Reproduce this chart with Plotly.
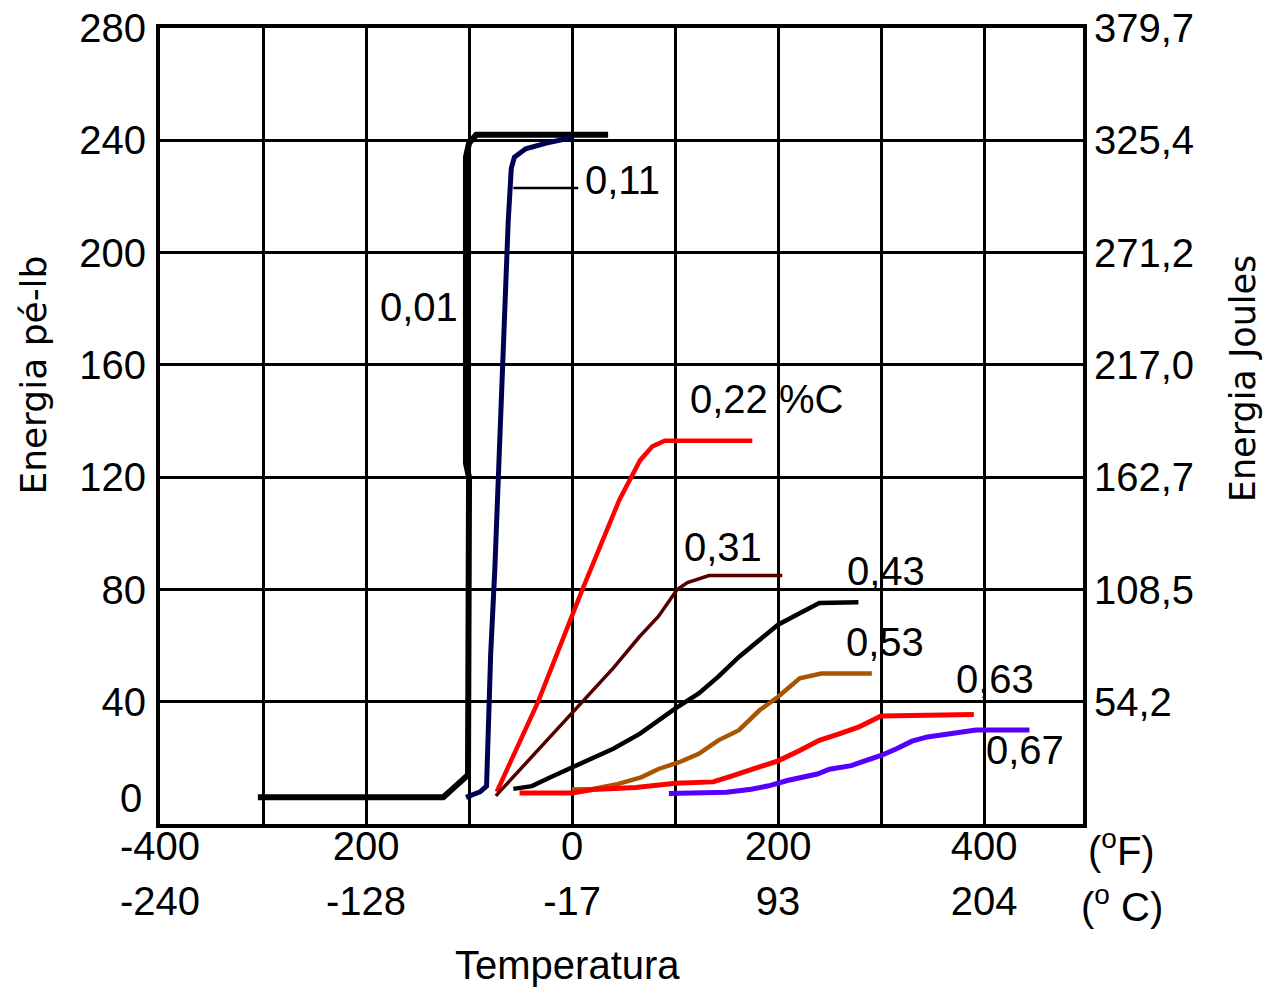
import plotly.graph_objects as go

# ---------------- data (°F, ft-lb) ----------------
x_001 = [-305, -125, -116, -108, -101, -100, -101, -103, -103, -100, -93, 35]
y_001 = [6, 6, 9, 12, 14, 120, 122, 125, 234, 239, 242, 242]

x_011 = [-103, -89, -83, -82, -79, -75, -72, -69, -66, -62, -59, -56, -45, -25, 0]
y_011 = [6, 8, 10, 25, 57, 87, 118, 148, 179, 211, 230, 234, 237, 239, 241]

x_022 = [-73, -33, 10, 46, 66, 78, 90, 175]
y_022 = [8, 40, 80, 112, 126, 131, 133, 133]

x_031 = [-74, -40, 10, 40, 65, 84, 102, 112, 133, 204]
y_031 = [6.5, 20, 40, 52, 63, 70.5, 80, 82.5, 85, 85]

x_043 = [-57, -39, -22, 0, 20, 40, 66, 100, 123, 142, 162, 182, 200, 221, 240, 278]
y_043 = [9, 10, 13, 16.7, 19.7, 23.3, 28.7, 37.6, 43, 49, 56, 62, 67.5, 71.6, 75.2, 75.5]

x_053 = [0, 20, 44, 58, 67, 84, 104, 123, 142, 162, 182, 200, 221, 242, 291]
y_053 = [8.8, 9, 10.7, 12, 13.1, 16.1, 18.5, 21.5, 26.3, 29.9, 37, 41.8, 48.4, 50.1, 50.1]

x_063 = [-51, 0, 20, 62, 100, 137, 154, 180, 200, 221, 240, 260, 278, 300, 390]
y_063 = [7.5, 7.5, 8.8, 9.5, 11, 11.5, 13.5, 16.5, 19, 22.7, 26.3, 28.7, 31, 35, 35.5]

x_067 = [94, 150, 174, 191, 209, 225, 238, 250, 271, 285, 300, 315, 330, 345, 370, 392, 444]
y_067 = [7.4, 7.8, 8.9, 10.1, 12, 13.1, 14.3, 16, 17.3, 19.1, 20.9, 23.3, 26, 27.5, 28.7, 30, 30]

# leader line for the 0,11 label
x_lead = [-57, 6]
y_lead = [223, 223]

# tick labels
f_ticks = [-400, -200, 0, 200, 400]
f_text = ["-400", "200", "0", "200", "400"]
c_text = ["-240", "-128", "-17", "93", "204"]
lb_ticks = [40, 80, 120, 160, 200, 240, 280]
lb_text = ["40", "80", "120", "160", "200", "240", "280"]
j_text = ["54,2", "108,5", "162,7", "217,0", "271,2", "325,4", "379,7"]

# curve labels: (text, centre x, centre y)
labels = [
    ("0,01", -149, 180.5),
    ("0,11", 49, 226),
    ("0,22 %C", 189, 148),
    ("0,31", 147, 95),
    ("0,43", 305, 86.5),
    ("0,53", 304, 61.5),
    ("0,63", 411, 48),
    ("0,67", 440, 23),
]

XR = [-400, 496]
YR = [-3.5, 280]

FONT = "Liberation Sans, Arial, sans-serif"
WIDE = "DejaVu Sans, sans-serif"
FS = 40

fig = go.Figure()

def line(x, y, color, w, xa="x", ya="y"):
    fig.add_trace(go.Scatter(x=x, y=y, mode="lines", line=dict(color=color, width=w),
                             xaxis=xa, yaxis=ya, showlegend=False, hoverinfo="skip"))

line(x_001, y_001, "#000000", 6)
line(x_011, y_011, "#000050", 5)
line(x_022, y_022, "#ff0000", 4.5)
line(x_031, y_031, "#550000", 3.5)
line(x_043, y_043, "#000000", 4.5)
line(x_053, y_053, "#a85400", 4.5)
line(x_063, y_063, "#ff0000", 5, ya="y2")
line(x_067, y_067, "#5500ff", 5, xa="x2")
line(x_lead, y_lead, "#000000", 2.5)

for t, x, y in labels:
    fig.add_annotation(x=x, y=y, xref="x", yref="y", text=t, showarrow=False,
                       xanchor="center", yanchor="middle",
                       font=dict(family=FONT, size=FS, color="black"))

# "0" tick label of the left axis (sits above the zero line in the original)
fig.add_annotation(x=-0.017, y=5.8, xref="paper", yref="y", text="0", showarrow=False,
                   xanchor="right", yanchor="middle",
                   font=dict(family=FONT, size=FS, color="black"))

# axis titles
fig.add_annotation(x=-0.137, y=0.564, xref="paper", yref="paper", text="Energia pé-lb",
                   textangle=-90, showarrow=False, xanchor="center", yanchor="middle",
                   font=dict(family=WIDE, size=36, color="black"))
fig.add_annotation(x=1.1733, y=0.56, xref="paper", yref="paper", text="Energia Joules",
                   textangle=-90, showarrow=False, xanchor="center", yanchor="middle",
                   font=dict(family=WIDE, size=35, color="black"))
fig.add_annotation(x=0.442, y=-0.177, xref="paper", yref="paper", text="Temperatura",
                   showarrow=False, xanchor="center", yanchor="middle",
                   font=dict(family=FONT, size=FS, color="black"))
fig.add_annotation(x=1.042, y=-0.03, xref="paper", yref="paper", text="(<sup>o</sup>F)",
                   showarrow=False, xanchor="center", yanchor="middle",
                   font=dict(family=FONT, size=FS, color="black"))
fig.add_annotation(x=1.042, y=-0.10, xref="paper", yref="paper", text="(<sup>o</sup> C)",
                   showarrow=False, xanchor="center", yanchor="middle",
                   font=dict(family=FONT, size=FS, color="black"))

grid = dict(showgrid=True, gridcolor="black", gridwidth=3)
axis_common = dict(showline=True, linecolor="black", linewidth=4, mirror=True,
                   zeroline=False, ticks="", automargin=False,
                   tickfont=dict(family=FONT, size=FS, color="black"), **grid)

fig.update_layout(
    width=1267, height=988,
    margin=dict(l=160, r=184, t=28, b=164, autoexpand=False),
    paper_bgcolor="white", plot_bgcolor="white",
    xaxis=dict(range=XR, tickmode="array", tickvals=f_ticks, ticktext=f_text,
               ticklabelstandoff=-16,
               minor=dict(tickmode="linear", tick0=-400, dtick=100, ticks="", **grid),
               **axis_common),
    xaxis2=dict(range=XR, overlaying="x", anchor="free", position=0, side="bottom",
                tickmode="array", tickvals=f_ticks, ticktext=c_text, showgrid=False,
                showline=False, zeroline=False, ticks="", ticklabelstandoff=50,
                automargin=False,
                tickfont=dict(family=FONT, size=FS, color="black")),
    yaxis=dict(range=YR, tickmode="array", tickvals=lb_ticks, ticktext=lb_text,
               ticklabelstandoff=2, **axis_common),
    yaxis2=dict(range=YR, overlaying="y", side="right", tickmode="array",
                tickvals=lb_ticks, ticktext=j_text, showgrid=False, showline=False,
                zeroline=False, ticks="", ticklabelstandoff=10, automargin=False,
                tickfont=dict(family=FONT, size=FS, color="black")),
)

fig.write_html("out.html", config={"displayModeBar": False},
               post_script="document.body.style.margin='0';document.body.style.padding='0';")
